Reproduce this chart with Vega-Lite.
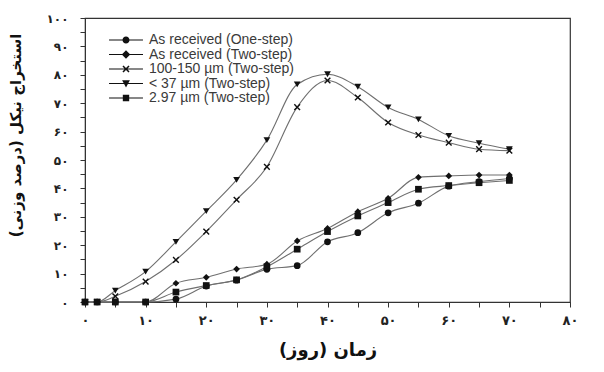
{
  "$schema": "https://vega.github.io/schema/vega-lite/v6.json",
  "width": 485,
  "height": 284,
  "autosize": {"type": "none"},
  "padding": {"left": 85, "top": 18, "right": 34, "bottom": 70},
  "background": "white",
  "config": {
    "view": {"stroke": "#333", "strokeWidth": 1.2},
    "axis": {"grid": false, "domainColor": "#333", "tickColor": "#333", "labelColor": "#222", "titleColor": "#111", "labelFont": "DejaVu Sans", "titleFont": "DejaVu Sans"}
  },
  "datasets": {
    "nickel": [
      {"day": 0, "ni": 0, "series": "As received (One-step)"},
      {"day": 2, "ni": 0, "series": "As received (One-step)"},
      {"day": 5, "ni": 0, "series": "As received (One-step)"},
      {"day": 10, "ni": 0, "series": "As received (One-step)"},
      {"day": 15, "ni": 1, "series": "As received (One-step)"},
      {"day": 20, "ni": 5.6, "series": "As received (One-step)"},
      {"day": 25, "ni": 7.7, "series": "As received (One-step)"},
      {"day": 30, "ni": 11.5, "series": "As received (One-step)"},
      {"day": 35, "ni": 12.8, "series": "As received (One-step)"},
      {"day": 40, "ni": 21.2, "series": "As received (One-step)"},
      {"day": 45, "ni": 24.4, "series": "As received (One-step)"},
      {"day": 50, "ni": 31.4, "series": "As received (One-step)"},
      {"day": 55, "ni": 34.8, "series": "As received (One-step)"},
      {"day": 60, "ni": 40.8, "series": "As received (One-step)"},
      {"day": 65, "ni": 42.4, "series": "As received (One-step)"},
      {"day": 70, "ni": 43.5, "series": "As received (One-step)"},
      {"day": 0, "ni": 0, "series": "As received (Two-step)"},
      {"day": 2, "ni": 0, "series": "As received (Two-step)"},
      {"day": 5, "ni": 0, "series": "As received (Two-step)"},
      {"day": 10, "ni": 0, "series": "As received (Two-step)"},
      {"day": 15, "ni": 6.6, "series": "As received (Two-step)"},
      {"day": 20, "ni": 8.7, "series": "As received (Two-step)"},
      {"day": 25, "ni": 11.6, "series": "As received (Two-step)"},
      {"day": 30, "ni": 13.3, "series": "As received (Two-step)"},
      {"day": 35, "ni": 21.5, "series": "As received (Two-step)"},
      {"day": 40, "ni": 25.9, "series": "As received (Two-step)"},
      {"day": 45, "ni": 31.8, "series": "As received (Two-step)"},
      {"day": 50, "ni": 36.5, "series": "As received (Two-step)"},
      {"day": 55, "ni": 43.9, "series": "As received (Two-step)"},
      {"day": 60, "ni": 44.4, "series": "As received (Two-step)"},
      {"day": 65, "ni": 44.7, "series": "As received (Two-step)"},
      {"day": 70, "ni": 44.7, "series": "As received (Two-step)"},
      {"day": 0, "ni": 0, "series": "100-150 µm (Two-step)"},
      {"day": 2, "ni": 0, "series": "100-150 µm (Two-step)"},
      {"day": 5, "ni": 2, "series": "100-150 µm (Two-step)"},
      {"day": 10, "ni": 7.2, "series": "100-150 µm (Two-step)"},
      {"day": 15, "ni": 14.8, "series": "100-150 µm (Two-step)"},
      {"day": 20, "ni": 24.8, "series": "100-150 µm (Two-step)"},
      {"day": 25, "ni": 36, "series": "100-150 µm (Two-step)"},
      {"day": 30, "ni": 47.6, "series": "100-150 µm (Two-step)"},
      {"day": 35, "ni": 68.6, "series": "100-150 µm (Two-step)"},
      {"day": 40, "ni": 78, "series": "100-150 µm (Two-step)"},
      {"day": 45, "ni": 72, "series": "100-150 µm (Two-step)"},
      {"day": 50, "ni": 63.2, "series": "100-150 µm (Two-step)"},
      {"day": 55, "ni": 58.8, "series": "100-150 µm (Two-step)"},
      {"day": 60, "ni": 56.1, "series": "100-150 µm (Two-step)"},
      {"day": 65, "ni": 53.8, "series": "100-150 µm (Two-step)"},
      {"day": 70, "ni": 53.3, "series": "100-150 µm (Two-step)"},
      {"day": 0, "ni": 0, "series": "< 37 µm (Two-step)"},
      {"day": 2, "ni": 0, "series": "< 37 µm (Two-step)"},
      {"day": 5, "ni": 4, "series": "< 37 µm (Two-step)"},
      {"day": 10, "ni": 10.7, "series": "< 37 µm (Two-step)"},
      {"day": 15, "ni": 21.2, "series": "< 37 µm (Two-step)"},
      {"day": 20, "ni": 32, "series": "< 37 µm (Two-step)"},
      {"day": 25, "ni": 43, "series": "< 37 µm (Two-step)"},
      {"day": 30, "ni": 57, "series": "< 37 µm (Two-step)"},
      {"day": 35, "ni": 76.6, "series": "< 37 µm (Two-step)"},
      {"day": 40, "ni": 80.2, "series": "< 37 µm (Two-step)"},
      {"day": 45, "ni": 75.8, "series": "< 37 µm (Two-step)"},
      {"day": 50, "ni": 68.5, "series": "< 37 µm (Two-step)"},
      {"day": 55, "ni": 64.3, "series": "< 37 µm (Two-step)"},
      {"day": 60, "ni": 58.5, "series": "< 37 µm (Two-step)"},
      {"day": 65, "ni": 55.9, "series": "< 37 µm (Two-step)"},
      {"day": 70, "ni": 53.8, "series": "< 37 µm (Two-step)"},
      {"day": 0, "ni": 0, "series": "2.97 µm (Two-step)"},
      {"day": 2, "ni": 0, "series": "2.97 µm (Two-step)"},
      {"day": 5, "ni": 0, "series": "2.97 µm (Two-step)"},
      {"day": 10, "ni": 0, "series": "2.97 µm (Two-step)"},
      {"day": 15, "ni": 3.5, "series": "2.97 µm (Two-step)"},
      {"day": 20, "ni": 5.8, "series": "2.97 µm (Two-step)"},
      {"day": 25, "ni": 7.8, "series": "2.97 µm (Two-step)"},
      {"day": 30, "ni": 12.4, "series": "2.97 µm (Two-step)"},
      {"day": 35, "ni": 18.6, "series": "2.97 µm (Two-step)"},
      {"day": 40, "ni": 24.8, "series": "2.97 µm (Two-step)"},
      {"day": 45, "ni": 30.3, "series": "2.97 µm (Two-step)"},
      {"day": 50, "ni": 35, "series": "2.97 µm (Two-step)"},
      {"day": 55, "ni": 39.7, "series": "2.97 µm (Two-step)"},
      {"day": 60, "ni": 41, "series": "2.97 µm (Two-step)"},
      {"day": 65, "ni": 42, "series": "2.97 µm (Two-step)"},
      {"day": 70, "ni": 42.8, "series": "2.97 µm (Two-step)"}
    ]
  },
  "data": {"name": "nickel"},
  "encoding": {
    "x": {
      "field": "day", "type": "quantitative",
      "scale": {"domain": [0, 80], "nice": false, "zero": false},
      "axis": {
        "title": "زمان (روز)",
        "values": [0, 5, 10, 15, 20, 25, 30, 35, 40, 45, 50, 55, 60, 65, 70, 75, 80],
        "labelExpr": "datum.value % 10 ? '' : replace(replace(replace(replace(replace(replace(replace(replace(replace(replace(datum.label,regexp('0','g'),'۰'),regexp('1','g'),'۱'),regexp('2','g'),'۲'),regexp('3','g'),'۳'),regexp('4','g'),'۴'),regexp('5','g'),'۵'),regexp('6','g'),'۶'),regexp('7','g'),'۷'),regexp('8','g'),'۸'),regexp('9','g'),'۹')",
        "labelFontSize": 13, "labelFontWeight": "bold", "labelPadding": 7, "tickSize": 5,
        "labelFlush": false,
        "titleFontSize": 18, "titleFontWeight": "bold", "titlePadding": 14
      }
    },
    "y": {
      "field": "ni", "type": "quantitative",
      "scale": {"domain": [0, 100], "nice": false},
      "axis": {
        "title": "استخراج نیکل (درصد وزنی)",
        "values": [0, 5, 10, 15, 20, 25, 30, 35, 40, 45, 50, 55, 60, 65, 70, 75, 80, 85, 90, 95, 100],
        "labelExpr": "datum.value % 10 ? '' : replace(replace(replace(replace(replace(replace(replace(replace(replace(replace(datum.label,regexp('0','g'),'۰'),regexp('1','g'),'۱'),regexp('2','g'),'۲'),regexp('3','g'),'۳'),regexp('4','g'),'۴'),regexp('5','g'),'۵'),regexp('6','g'),'۶'),regexp('7','g'),'۷'),regexp('8','g'),'۸'),regexp('9','g'),'۹')",
        "labelFontSize": 12, "labelFontWeight": "bold", "labelPadding": 12, "tickSize": 5,
        "labelFlush": false,
        "titleFontSize": 15, "titleFontWeight": "bold",
        "titleX": -62, "titleY": 117, "titleAlign": "center"
      }
    }
  },
  "layer": [
    {
      "mark": {"type": "line", "interpolate": "monotone", "stroke": "#6f6f6f", "strokeWidth": 1.1},
      "encoding": {"detail": {"field": "series"}}
    },
    {
      "mark": {"type": "point", "filled": true, "color": "#111", "opacity": 1, "size": 45},
      "encoding": {
        "shape": {
          "field": "series", "type": "nominal",
          "scale": {
            "domain": ["As received (One-step)", "As received (Two-step)", "100-150 µm (Two-step)", "< 37 µm (Two-step)", "2.97 µm (Two-step)"],
            "range": ["circle", "diamond", "M-1,-0.7L-0.7,-1L0,-0.3L0.7,-1L1,-0.7L0.3,0L1,0.7L0.7,1L0,0.3L-0.7,1L-1,0.7L-0.3,0Z", "triangle-down", "square"]
          },
          "legend": null
        }
      }
    },
    {
      "mark": {"type": "point", "filled": true, "color": "#111", "opacity": 0, "size": 45},
      "encoding": {
        "shape": {
          "field": "series", "type": "nominal",
          "scale": {
            "domain": ["As received (One-step)", "As received (Two-step)", "100-150 µm (Two-step)", "< 37 µm (Two-step)", "2.97 µm (Two-step)"],
            "range": [
              "M-4.8,-0.12H4.8V0.12H-4.8Z M1,0A1,1 0 1,1 -1,0A1,1 0 1,1 1,0Z",
              "M-4.8,-0.12H4.8V0.12H-4.8Z M0,-1.2L1.2,0L0,1.2L-1.2,0Z",
              "M-4.8,-0.12H4.8V0.12H-4.8Z M-1,-0.7L-0.7,-1L0,-0.3L0.7,-1L1,-0.7L0.3,0L1,0.7L0.7,1L0,0.3L-0.7,1L-1,0.7L-0.3,0Z",
              "M-4.8,-0.12H4.8V0.12H-4.8Z M-1.1,-0.9L1.1,-0.9L0,1.1Z",
              "M-4.8,-0.12H4.8V0.12H-4.8Z M-0.9,-0.9H0.9V0.9H-0.9Z"
            ]
          },
          "legend": {
            "title": null,
            "orient": "none",
            "legendX": 34,
            "legendY": 15,
            "padding": 0,
            "symbolSize": 50,
            "symbolOpacity": 1,
            "symbolFillColor": "#222",
            "symbolStrokeWidth": 0,
            "labelOffset": 16,
            "labelFont": "Liberation Sans",
            "labelFontSize": 14,
            "labelColor": "#3a3a3a",
            "rowPadding": 0.5,
            "labelLimit": 300
          }
        }
      }
    }
  ],
  "resolve": {"scale": {"shape": "independent"}}
}
